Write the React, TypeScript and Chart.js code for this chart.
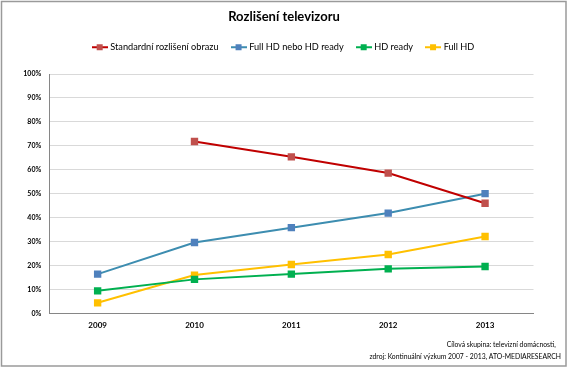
import React, { useEffect, useRef } from "react";
import { Chart, registerables } from "chart.js";

Chart.register(...registerables);

const years = ["2009", "2010", "2011", "2012", "2013"];
const seriesNames = [
  "Standardní rozlišení obrazu",
  "Full HD nebo HD ready",
  "HD ready",
  "Full HD",
];
const standardni = [null, 71.8, 65.4, 58.6, 46.0];
const fullHdNeboHdReady = [16.4, 29.6, 35.8, 41.9, 50.0];
const hdReady = [9.4, 14.2, 16.4, 18.6, 19.6];
const fullHd = [4.4, 16.0, 20.4, 24.6, 32.1];
const footerLines = [
  "Cílová skupina: televizní domácnosti,   ",
  "zdroj: Kontinuální výzkum 2007 - 2013, ATO-MEDIARESEARCH",
];
const titleText = "Rozlišení televizoru";

const FONT = 'Lato, "Noto Sans", sans-serif';

const lineColors = ["#C00000", "#3D8DB0", "#00B050", "#FFC000"];
const markerColors = ["#C0504D", "#4F81BD", "#00B050", "#FFC000"];

function legendImage(line: string, marker: string) {
  const c = document.createElement("canvas");
  c.width = 16;
  c.height = 8;
  const ctx = c.getContext("2d")!;
  ctx.strokeStyle = line;
  ctx.lineWidth = 2;
  ctx.beginPath();
  ctx.moveTo(0, 4);
  ctx.lineTo(16, 4);
  ctx.stroke();
  ctx.fillStyle = marker;
  ctx.fillRect(5, 1, 6, 6);
  return c;
}

const borderPlugin = {
  id: "outerBorder",
  beforeDraw(chart: any) {
    const ctx = chart.ctx;
    ctx.save();
    ctx.fillStyle = "#ffffff";
    ctx.fillRect(0, 0, chart.width, chart.height);
    ctx.restore();
  },
  afterDraw(chart: any) {
    const ctx = chart.ctx;
    ctx.save();
    ctx.strokeStyle = "#9a9a9a";
    ctx.lineWidth = 1.5;
    ctx.strokeRect(1.5, 1.5, chart.width - 3.5, chart.height - 3.5);
    ctx.restore();
  },
};

export default function App() {
  const ref = useRef<HTMLCanvasElement>(null);
  useEffect(() => {
    const values = [standardni, fullHdNeboHdReady, hdReady, fullHd];
    const images = lineColors.map((c, i) => legendImage(c, markerColors[i]));
    const chart = new Chart(ref.current!, {
      type: "line",
      data: {
        labels: years,
        datasets: values.map((v, i) => ({
          label: seriesNames[i],
          data: v,
          borderColor: lineColors[i],
          backgroundColor: markerColors[i],
          pointBackgroundColor: markerColors[i],
          pointBorderColor: markerColors[i],
          pointStyle: "rect",
          pointRadius: 3.8,
          borderWidth: 2,
          tension: 0,
          spanGaps: false,
        })),
      },
      options: {
        animation: false,
        responsive: false,
        maintainAspectRatio: false,
        layout: { padding: { left: 7, right: 7, top: 0, bottom: 5 } },
        plugins: {
          tooltip: { enabled: false },
          title: {
            display: true,
            text: titleText,
            color: "#000",
            font: { family: FONT, size: 13, weight: "bold" },
            padding: { top: 9, bottom: 4 },
          },
          subtitle: {
            display: true,
            position: "bottom",
            align: "end",
            text: footerLines,
            color: "#000",
            font: { family: FONT, size: 6.8, lineHeight: 1.76 },
            padding: { top: 1, bottom: 0 },
          },
          legend: {
            display: true,
            position: "top",
            labels: {
              usePointStyle: true,
              pointStyleWidth: 12,
              padding: 14,
              color: "#000",
              font: { family: FONT, size: 9.2 },
              generateLabels: (ch: any) => {
                const items = (Chart.defaults.plugins.legend.labels as any).generateLabels(ch);
                return items.map((it: any, i: number) => ({ ...it, pointStyle: images[i] }));
              },
            },
          },
        },
        scales: {
          x: {
            offset: true,
            grid: { display: false, drawTicks: false },
            border: { display: true, color: "#868686", width: 1 },
            ticks: {
              padding: 7,
              color: "#000",
              font: { family: FONT, size: 8, weight: "bold" },
            },
            afterFit: (s: any) => {
              s.height = 24.7;
            },
          },
          xTop: {
            type: "category",
            position: "top",
            display: true,
            grid: { display: false, drawTicks: false },
            border: { display: false },
            ticks: { display: false },
            afterFit: (s: any) => {
              s.height = 12.2;
            },
          },
          y: {
            min: 0,
            max: 100,
            grid: { color: "#d9d9d9", lineWidth: 1, drawTicks: false },
            border: { display: true, color: "#868686", width: 1 },
            ticks: {
              stepSize: 10,
              padding: 8,
              color: "#000",
              font: { family: FONT, size: 7, weight: "bold" },
              callback: (v: any) => v + "%",
            },
            afterFit: (s: any) => {
              s.width = 42.2;
            },
          },
          yRight: {
            type: "linear",
            position: "right",
            display: true,
            grid: { display: false, drawTicks: false },
            border: { display: false },
            ticks: { display: false },
            afterFit: (s: any) => {
              s.width = 27.5;
            },
          },
        },
      },
      plugins: [borderPlugin],
    } as any);
    return () => chart.destroy();
  }, []);
  return (
    <div style={{ position: "absolute", left: 0, top: 0, width: 568, height: 368 }}>
      <canvas ref={ref} width={568} height={368} style={{ width: 568, height: 368, display: "block" }} />
    </div>
  );
}
